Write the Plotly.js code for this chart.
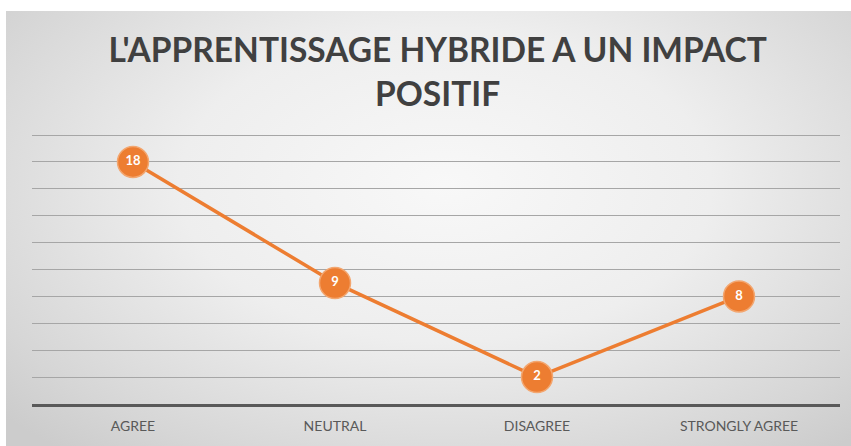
<!DOCTYPE html>
<html>
<head>
<meta charset="utf-8">
<script src="https://cdn.plot.ly/plotly-3.0.1.min.js"></script>
<style>
  html, body { margin: 0; padding: 0; background: #ffffff; }
  #bg { position: absolute; left: 6px; top: 11px; width: 845px; height: 435px;
        background: radial-gradient(ellipse 70% 80% at 52% 40%, #f8f8f8 0%, #eeeeee 45%, #d6d6d6 85%, #cccccc 100%); }
  #chart { position: absolute; left: 0; top: 0; width: 851px; height: 446px; }
</style>
</head>
<body>
<div id="bg"></div>
<div id="chart"></div>
<script>
const categories = ["AGREE", "NEUTRAL", "DISAGREE", "STRONGLY AGREE"];
const values = [18, 9, 2, 8];
const titleText = "L'APPRENTISSAGE HYBRIDE A UN IMPACT<br>POSITIF";

const trace = {
  type: "scatter",
  mode: "lines+markers+text",
  x: categories,
  y: values,
  text: values.map(String),
  textposition: "middle center",
  textfont: { family: "Lato, Liberation Sans, sans-serif", size: 13, color: "#ffffff", weight: "bold" },
  line: { color: "#ED7D31", width: 3.5 },
  marker: { color: "#ED7D31", size: 31, line: { color: "#f3a66f", width: 1.5 } },
  cliponaxis: false,
  hoverinfo: "skip"
};

const layout = {
  width: 851,
  height: 446,
  paper_bgcolor: "rgba(0,0,0,0)",
  plot_bgcolor: "rgba(0,0,0,0)",
  margin: { l: 32, r: 11, t: 133, b: 42 },
  showlegend: false,
  title: {
    text: titleText,
    font: { family: "Lato, Liberation Sans, sans-serif", size: 33.5, color: "#404040", weight: "bold" },
    x: 0.502, xref: "paper", xanchor: "center",
    y: 0.861, yref: "container", yanchor: "top"
  },
  xaxis: {
    type: "category",
    range: [-0.5, 3.5],
    showgrid: false,
    showline: true,
    linecolor: "#595959",
    linewidth: 2.5,
    ticks: "",
    tickfont: { family: "Lato, Liberation Sans, sans-serif", size: 14, color: "#595959" },
    ticklabelstandoff: 8,
    zeroline: false
  },
  yaxis: {
    range: [0, 20.15],
    dtick: 2,
    tick0: 0,
    showgrid: true,
    gridcolor: "#a6a6a6",
    gridwidth: 1,
    showticklabels: false,
    ticks: "",
    zeroline: false,
    showline: false
  }
};

Plotly.newPlot("chart", [trace], layout, { staticPlot: true, displayModeBar: false });
</script>
</body>
</html>
